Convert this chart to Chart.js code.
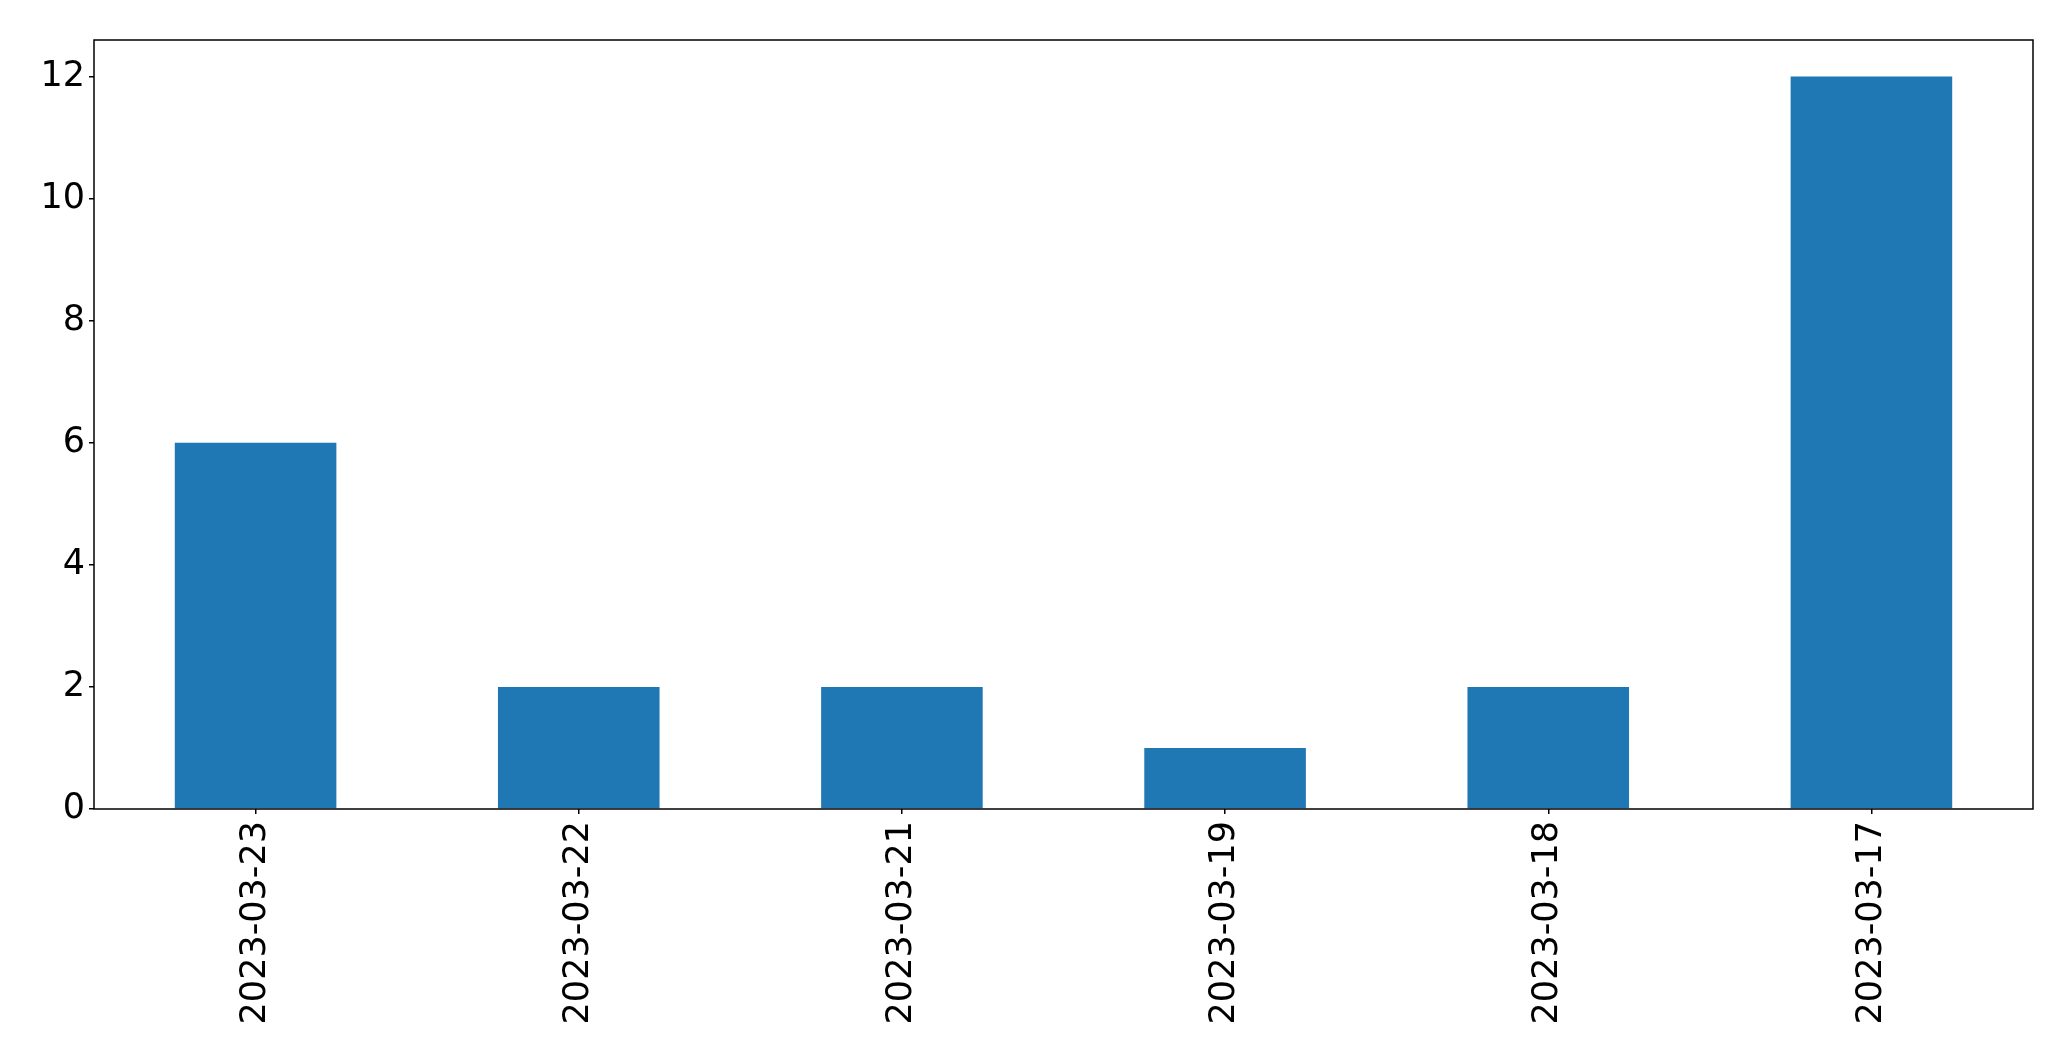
<!DOCTYPE html>
<html>
<head>
<meta charset="utf-8">
<script src="https://cdn.jsdelivr.net/npm/chart.js@4/dist/chart.umd.min.js"></script>
<style>
  body { margin: 0; background: #fff; }
  #wrap { width: 2071px; height: 1061px; }
</style>
</head>
<body>
<div id="wrap"><canvas id="chart" width="2071" height="1061"></canvas></div>
<script>
// values
const dates = ['2023-03-23', '2023-03-22', '2023-03-21', '2023-03-19', '2023-03-18', '2023-03-17'];
const counts = [6, 2, 2, 1, 2, 12];
const yTicks = [0, 2, 4, 6, 8, 10, 12];

const font = { family: 'DejaVu Sans', size: 35 };

// draw the black frame around the plot area
const frame = {
    id: 'frame',
    afterDraw(chart) {
        const a = chart.chartArea;
        const ctx = chart.ctx;
        ctx.save();
        ctx.strokeStyle = '#000';
        ctx.lineWidth = 1.5;
        ctx.strokeRect(a.left, a.top, a.right - a.left, a.bottom - a.top);
        ctx.restore();
    }
};

const ctx = document.getElementById('chart').getContext('2d');
new Chart(ctx, {
    type: 'bar',
    data: {
        labels: dates,
        datasets: [{
            data: counts,
            backgroundColor: '#1f77b4',
            borderWidth: 0,
            categoryPercentage: 1.0,
            barPercentage: 0.5
        }]
    },
    options: {
        responsive: false,
        animation: false,
        devicePixelRatio: 1,
        layout: { padding: { top: 40, right: 38, left: 0, bottom: 0 } },
        plugins: { legend: { display: false }, tooltip: { enabled: false } },
        scales: {
            x: {
                offset: true,
                grid: { display: true, offset: false, drawOnChartArea: false, drawTicks: true, tickLength: 5, color: '#000', lineWidth: 1.5 },
                border: { display: false },
                ticks: { color: '#000', font: font, minRotation: 90, maxRotation: 90, padding: 7, autoSkip: false },
                afterFit(scale) { scale.height = 252; }
            },
            y: {
                min: 0,
                max: 12.6,
                grid: { display: true, drawOnChartArea: false, drawTicks: true, tickLength: 5, color: '#000', lineWidth: 1.5 },
                border: { display: false },
                afterBuildTicks(scale) { scale.ticks = yTicks.map(v => ({ value: v })); },
                ticks: { color: '#000', font: font, padding: 4, includeBounds: false },
                afterFit(scale) { scale.width = 94; }
            }
        }
    },
    plugins: [frame]
});
</script>
</body>
</html>
